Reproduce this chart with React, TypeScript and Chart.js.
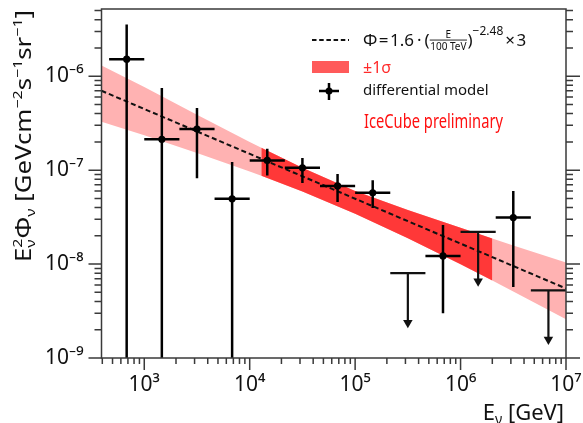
import React, { useEffect, useRef } from 'react';
import { Chart, registerables } from 'chart.js';

Chart.register(...registerables);

const FONT = '"Noto Sans", "DejaVu Sans", sans-serif';

// ---- data ----
// energy bin edges, GeV (1/3 decade bins)
const binEdges = [464, 1000, 2154, 4642, 10000, 21544, 46416, 100000, 215443, 464159, 1000000, 2154435, 4641589, 10000000];

// measured flux points
const pointBin = [0, 1, 2, 3, 4, 5, 6, 7, 9, 11];
const pointE = [681, 1468, 3162, 6813, 14678, 31623, 68129, 146780, 681292, 3162278];
const pointFlux = [1.52e-6, 2.13e-7, 2.74e-7, 4.95e-8, 1.27e-7, 1.06e-7, 6.8e-8, 5.75e-8, 1.22e-8, 3.13e-8];
const pointFluxHi = [3.55e-6, 7.5e-7, 4.6e-7, 1.22e-7, 1.69e-7, 1.35e-7, 9.1e-8, 7.8e-8, 2.6e-8, 6.0e-8];
const pointFluxLo = [1e-10, 1e-10, 8.2e-8, 1e-10, 8.8e-8, 7.3e-8, 4.57e-8, 3.96e-8, 3.0e-9, 5.7e-9];

// upper limits
const limitBin = [8, 10, 12];
const limitE = [316228, 1467799, 6812921];
const limitFlux = [8.0e-9, 2.2e-8, 5.25e-9];
const limitArrowEnd = [2.37e-9, 6.56e-9, 1.57e-9];

// best-fit power law (E^2 flux)
const modelE = [393, 10000000];
const modelFlux = [7.0e-7, 5.5e-9];

// +-1 sigma band
const bandE = [393, 1000, 3162, 10000, 12900, 31623, 100000, 316228, 1000000, 2000000, 3162278, 10000000];
const bandHi = [1.3e-6, 7.66e-7, 3.89e-7, 2.0e-7, 1.73e-7, 1.06e-7, 6.01e-8, 3.76e-8, 2.43e-8, 1.87e-8, 1.58e-8, 1.04e-8];
const bandLo = [3.27e-7, 2.35e-7, 1.52e-7, 9.66e-8, 8.71e-8, 5.92e-8, 3.44e-8, 1.88e-8, 9.93e-9, 6.67e-9, 5.11e-9, 2.59e-9];
const darkBandE = [12900, 31623, 100000, 316228, 1000000, 2000000];
const darkBandHi = [1.73e-7, 1.06e-7, 6.01e-8, 3.76e-8, 2.43e-8, 1.87e-8];
const darkBandLo = [8.71e-8, 5.92e-8, 3.44e-8, 1.88e-8, 9.93e-9, 6.67e-9];

// axis ranges and labelled decades
const xRange = [393, 10000000];
const yRange = [1e-9, 5.2e-6];
const xTickDecades = [3, 4, 5, 6, 7];
const yTickDecades = [-9, -8, -7, -6];

const SUP: Record<string, string> = { '-': '\u207B', '0': '\u2070', '1': '\u00B9', '2': '\u00B2', '3': '\u00B3', '4': '\u2074', '5': '\u2075', '6': '\u2076', '7': '\u2077', '8': '\u2078', '9': '\u2079' };
const decadeLabel = (v: number, decades: number[]) => {
  const l = Math.log10(v);
  const d = Math.round(l);
  if (Math.abs(l - d) > 1e-6 || !decades.includes(d)) return '';
  return '10' + String(d).split('').map((c) => SUP[c]).join('');
};

type Run = { t: string; size: number; dy?: number; gap?: number; stack?: { t: string; size: number; dy: number } };
function drawRuns(ctx: CanvasRenderingContext2D, x: number, y: number, runs: Run[], measureOnly = false) {
  let cx = x;
  for (const r of runs) {
    ctx.font = `${r.size}px ${FONT}`;
    const w1 = ctx.measureText(r.t).width;
    if (!measureOnly) ctx.fillText(r.t, cx, y + (r.dy || 0));
    let w2 = 0;
    if (r.stack) {
      ctx.font = `${r.stack.size}px ${FONT}`;
      w2 = ctx.measureText(r.stack.t).width;
      if (!measureOnly) ctx.fillText(r.stack.t, cx, y + r.stack.dy);
    }
    cx += Math.max(w1, w2) + (r.gap || 0);
  }
  return cx - x;
}

const decoPlugin = {
  id: 'deco',
  afterDraw(chart: any) {
    const { ctx, chartArea: a, scales } = chart;
    const xs = scales.x;
    const ys = scales.y;
    ctx.save();
    // frame
    ctx.strokeStyle = '#3a3a3a';
    ctx.lineWidth = 1.5;
    ctx.strokeRect(a.left, a.top, a.right - a.left, a.bottom - a.top);
    // ticks
    const kind = (v: number) => {
      const l = Math.log10(v);
      const e = Math.floor(l + 1e-9);
      const m = v / Math.pow(10, e);
      return { ok: Math.abs(m - Math.round(m)) < 1e-6, major: Math.abs(l - Math.round(l)) < 1e-6 };
    };
    ctx.beginPath();
    xs.ticks.forEach((t: any) => {
      const k = kind(t.value);
      if (!k.ok) return;
      const p = xs.getPixelForValue(t.value);
      ctx.moveTo(p, a.bottom);
      ctx.lineTo(p, a.bottom + (k.major ? 12 : 6));
    });
    ys.ticks.forEach((t: any) => {
      const k = kind(t.value);
      if (!k.ok) return;
      const p = ys.getPixelForValue(t.value);
      ctx.moveTo(a.left, p);
      ctx.lineTo(a.left - (k.major ? 13 : 7), p);
      ctx.moveTo(a.right, p);
      ctx.lineTo(a.right + (k.major ? 14 : 7), p);
    });
    ctx.stroke();

    // axis titles
    ctx.fillStyle = '#111';
    ctx.textBaseline = 'alphabetic';
    ctx.textAlign = 'left';
    const xr: Run[] = [
      { t: 'E', size: 22 },
      { t: '\u03BD', size: 14, dy: 4 },
      { t: ' [GeV]', size: 22 },
    ];
    const xw = drawRuns(ctx, 0, 0, xr, true);
    drawRuns(ctx, 564 - xw, 420, xr);

    const yr: Run[] = [
      { t: 'E', size: 21 },
      { t: '2', size: 13, dy: -9, stack: { t: '\u03BD', size: 13, dy: 4 } },
      { t: '\u03A6', size: 21 },
      { t: '\u03BD', size: 13, dy: 4 },
      { t: ' [GeVcm', size: 21 },
      { t: '\u22122', size: 13, dy: -9 },
      { t: 's', size: 21 },
      { t: '\u22121', size: 13, dy: -9 },
      { t: 'sr', size: 21 },
      { t: '\u22121', size: 13, dy: -9 },
      { t: ']', size: 21 },
    ];
    const yw = drawRuns(ctx, 0, 0, yr, true);
    ctx.save();
    ctx.translate(31, 262);
    ctx.rotate(-Math.PI / 2);
    ctx.scale(252 / yw, 1);
    drawRuns(ctx, 0, 0, yr);
    ctx.restore();

    // legend
    ctx.strokeStyle = '#111';
    ctx.lineWidth = 2;
    ctx.setLineDash([4.5, 2.7]);
    ctx.beginPath();
    ctx.moveTo(312, 40);
    ctx.lineTo(349, 40);
    ctx.stroke();
    ctx.setLineDash([]);

    ctx.fillStyle = '#111';
    ctx.textBaseline = 'alphabetic';
    const by = 46;
    let cx = 363;
    cx += drawRuns(ctx, cx, by, [
      { t: '\u03A6', size: 17, gap: 1.5 },
      { t: '=', size: 17, gap: 1.5 },
      { t: '1.6', size: 17, gap: 3 },
      { t: '\u00B7', size: 17, gap: 3 },
      { t: '(', size: 17 },
    ]);
    // fraction
    ctx.font = `10px ${FONT}`;
    const fw = ctx.measureText('100 TeV').width;
    ctx.textAlign = 'center';
    ctx.fillText('E', cx + fw / 2 + 0.5, 37.5);
    ctx.fillText('100 TeV', cx + fw / 2 + 0.5, 49.5);
    ctx.fillRect(cx, 39.6, fw + 1, 0.9);
    ctx.textAlign = 'left';
    cx += fw + 1.5;
    drawRuns(ctx, cx, by, [
      { t: ')', size: 17 },
      { t: '\u22122.48', size: 12, dy: -11, gap: 2 },
      { t: '\u00D7', size: 17, gap: 1.5 },
      { t: '3', size: 17 },
    ]);

    ctx.fillStyle = '#ff5a5a';
    ctx.fillRect(312, 61, 37, 12);
    ctx.fillStyle = '#ff2a2a';
    ctx.font = `16px ${FONT}`;
    ctx.textBaseline = 'middle';
    ctx.fillText('\u00B11\u03C3', 363, 68, 36);

    ctx.strokeStyle = '#000';
    ctx.lineWidth = 2.5;
    ctx.beginPath();
    ctx.moveTo(319, 91);
    ctx.lineTo(339, 91);
    ctx.moveTo(329, 83);
    ctx.lineTo(329, 100);
    ctx.stroke();
    ctx.fillStyle = '#000';
    ctx.beginPath();
    ctx.arc(329, 91, 3.5, 0, Math.PI * 2);
    ctx.fill();
    ctx.fillStyle = '#111';
    ctx.font = `15px ${FONT}`;
    ctx.fillText('differential model', 363, 91, 129);

    ctx.fillStyle = '#ff1010';
    ctx.font = `19px ${FONT}`;
    ctx.fillText('IceCube preliminary', 364, 123, 139);
    ctx.restore();
  },
};

export default function App() {
  const ref = useRef<HTMLCanvasElement | null>(null);
  useEffect(() => {
    if (!ref.current) return;

    const vErr: any[] = [];
    const hErr: any[] = [];
    pointE.forEach((e, i) => {
      vErr.push({ x: e, y: pointFluxLo[i] }, { x: e, y: pointFluxHi[i] }, { x: e, y: null });
      const b = pointBin[i];
      hErr.push({ x: binEdges[b], y: pointFlux[i] }, { x: binEdges[b + 1], y: pointFlux[i] }, { x: e, y: null });
    });
    const ulLines: any[] = [];
    limitE.forEach((e, i) => {
      const b = limitBin[i];
      ulLines.push({ x: binEdges[b], y: limitFlux[i] }, { x: binEdges[b + 1], y: limitFlux[i] }, { x: e, y: null });
      ulLines.push({ x: e, y: limitFlux[i] }, { x: e, y: limitArrowEnd[i] }, { x: e, y: null });
    });

    const base = { pointRadius: 0, pointHoverRadius: 0, spanGaps: false, tension: 0 };
    const datasets: any[] = [
      // 0 points
      {
        ...base,
        data: pointE.map((e, i) => ({ x: e, y: pointFlux[i] })),
        showLine: false,
        pointRadius: 3.6,
        pointBackgroundColor: '#000',
        pointBorderColor: '#000',
        pointBorderWidth: 0,
        order: 0,
      },
      // 1 arrow heads
      {
        ...base,
        data: limitE.map((e, i) => ({ x: e, y: limitArrowEnd[i] })),
        showLine: false,
        pointStyle: 'triangle',
        pointRotation: 180,
        pointRadius: 5.5,
        pointBackgroundColor: '#111',
        pointBorderColor: '#111',
        pointBorderWidth: 0,
        order: 0,
      },
      // 2 vertical error bars
      { ...base, data: vErr, borderColor: '#000', borderWidth: 2.5, fill: false, order: 1 },
      // 3 horizontal error bars
      { ...base, data: hErr, borderColor: '#000', borderWidth: 2.5, fill: false, order: 1 },
      // 4 upper-limit bars
      { ...base, data: ulLines, borderColor: '#111', borderWidth: 2.2, fill: false, order: 1 },
      // 5 model
      {
        ...base,
        data: modelE.map((e, i) => ({ x: e, y: modelFlux[i] })),
        borderColor: '#111',
        borderWidth: 2,
        borderDash: [5, 3],
        fill: false,
        order: 2,
      },
      // 6,7 dark band
      {
        ...base,
        data: darkBandE.map((e, i) => ({ x: e, y: darkBandHi[i] })),
        borderWidth: 0,
        borderColor: 'rgba(0,0,0,0)',
        backgroundColor: '#ff3838',
        fill: 7,
        order: 3,
      },
      {
        ...base,
        data: darkBandE.map((e, i) => ({ x: e, y: darkBandLo[i] })),
        borderWidth: 0,
        borderColor: 'rgba(0,0,0,0)',
        fill: false,
        order: 3,
      },
      // 8,9 light band
      {
        ...base,
        data: bandE.map((e, i) => ({ x: e, y: bandHi[i] })),
        borderWidth: 0,
        borderColor: 'rgba(0,0,0,0)',
        backgroundColor: '#ffb2b2',
        fill: 9,
        order: 4,
      },
      {
        ...base,
        data: bandE.map((e, i) => ({ x: e, y: bandLo[i] })),
        borderWidth: 0,
        borderColor: 'rgba(0,0,0,0)',
        fill: false,
        order: 4,
      },
    ];

    const chart = new Chart(ref.current, {
      type: 'line',
      data: { datasets },
      plugins: [decoPlugin],
      options: {
        animation: false,
        responsive: false,
        maintainAspectRatio: false,
        events: [],
        layout: { padding: { top: 9, right: 17, left: 0, bottom: 0 } },
        plugins: { legend: { display: false }, tooltip: { enabled: false } },
        scales: {
          x: {
            type: 'logarithmic',
            min: xRange[0],
            max: xRange[1],
            grid: { display: false, drawTicks: false },
            border: { display: false },
            ticks: {
              autoSkip: false,
              maxRotation: 0,
              minRotation: 0,
              padding: 14,
              color: '#111',
              font: { family: FONT, size: 21 },
              callback: (v: any) => decadeLabel(Number(v), xTickDecades),
            },
            afterFit: (s: any) => {
              s.height = 65;
              s.paddingLeft = 0;
              s.paddingRight = 0;
            },
          },
          y: {
            type: 'logarithmic',
            min: yRange[0],
            max: yRange[1],
            grid: { display: false, drawTicks: false },
            border: { display: false },
            ticks: {
              autoSkip: false,
              padding: 18,
              color: '#111',
              font: { family: FONT, size: 21 },
              callback: (v: any) => decadeLabel(Number(v), yTickDecades),
            },
            afterFit: (s: any) => {
              s.width = 101.5;
              s.paddingTop = 0;
              s.paddingBottom = 0;
            },
          },
        },
      } as any,
    });
    return () => chart.destroy();
  }, []);

  return (
    <div style={{ position: 'fixed', left: 0, top: 0, width: 583, height: 423, background: '#fff' }}>
      <canvas ref={ref} width={583} height={423} style={{ display: 'block', width: 583, height: 423 }} />
    </div>
  );
}
